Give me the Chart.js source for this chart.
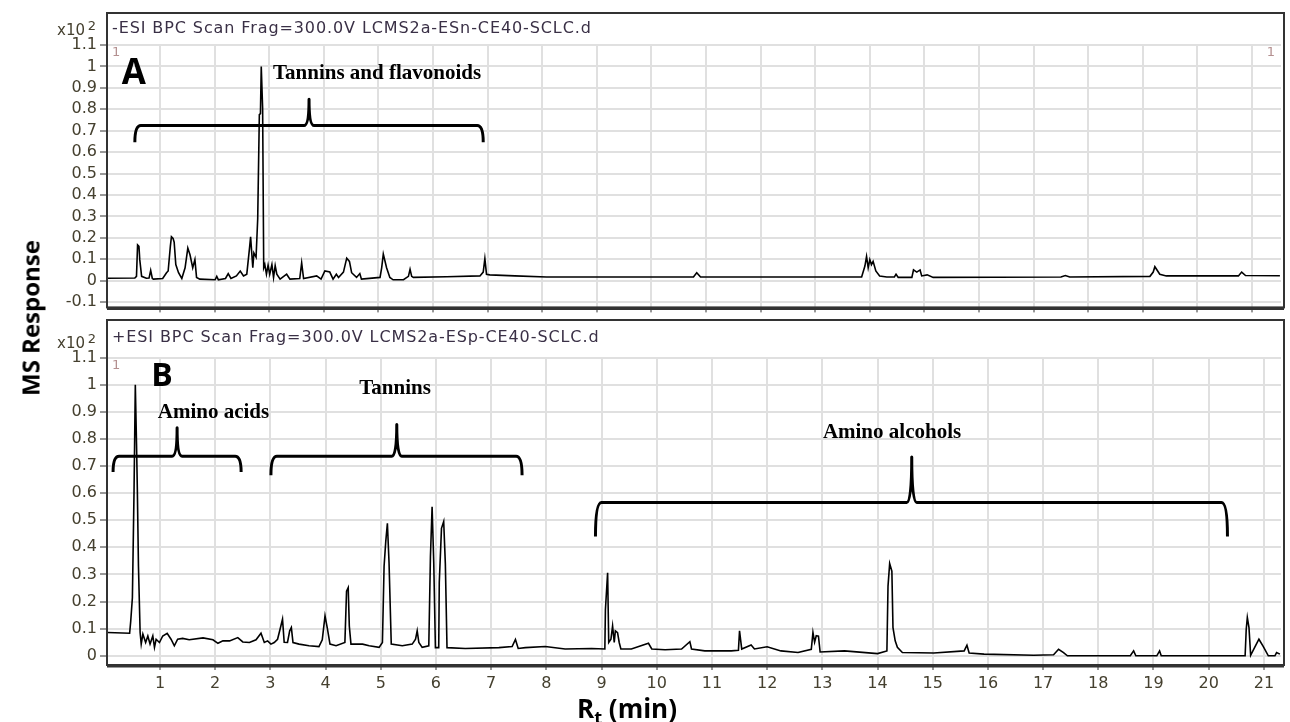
<!DOCTYPE html>
<html>
<head>
<meta charset="utf-8">
<title>BPC chromatograms</title>
<script src="https://cdn.jsdelivr.net/npm/chart.js@4.4.1/dist/chart.umd.min.js"></script>
<style>
  body { margin: 0; background: #fff; }
  #wrap { position: relative; width: 1290px; height: 722px; overflow: hidden; }
  canvas { position: absolute; left: 0; }
  #yTitle {
    position: absolute; left: 30px; top: 318px;
    transform: translate(-50%, -50%) rotate(-90deg);
    font: bold 24px "Open Sans", sans-serif; white-space: nowrap; color: #000;
  }
  #xTitle {
    position: absolute; left: 627px; top: 690px; transform: translateX(-50%);
    font: bold 26px "Open Sans", sans-serif; white-space: nowrap; color: #000;
  }
  #xTitle sub { font-size: 70%; vertical-align: -0.35em; line-height: 0; }
</style>
</head>
<body>
<div id="wrap">
  <canvas id="chartA" width="1290" height="320" style="top:0"></canvas>
  <canvas id="chartB" width="1290" height="406" style="top:316px"></canvas>
  <div id="yTitle">MS Response</div>
  <div id="xTitle">R<sub>t</sub> (min)</div>
</div>
<script>
// ---- data (time in min, response x10^2) ----
const timesA = [0.03, 0.54, 0.57, 0.59, 0.615, 0.63, 0.664, 0.75, 0.80, 0.83, 0.86, 0.88, 1.05, 1.12, 1.15, 1.19, 1.21, 1.24, 1.26, 1.29,
  1.34, 1.40, 1.46, 1.51, 1.55, 1.60, 1.64, 1.67, 1.73, 2.01, 2.04, 2.07, 2.20, 2.25, 2.30, 2.40, 2.47, 2.53, 2.59, 2.64,
  2.66, 2.70, 2.72, 2.76, 2.79, 2.82, 2.84, 2.855, 2.88, 2.90, 2.92, 2.95, 2.98, 3.01, 3.05, 3.08, 3.11, 3.14, 3.20, 3.32,
  3.38, 3.56, 3.595, 3.63, 3.87, 3.95, 4.02, 4.11, 4.17, 4.23, 4.27, 4.36, 4.42, 4.47, 4.51, 4.60, 4.66, 4.69, 5.03, 5.06,
  5.09, 5.15, 5.21, 5.27, 5.46, 5.55, 5.58, 5.61, 5.64, 6.25, 6.86, 6.92, 6.95, 6.98, 7.04, 7.50, 8.08, 9.30, 10.77, 10.83,
  10.90, 13.85, 13.91, 13.94, 13.97, 14.00, 14.03, 14.06, 14.11, 14.18, 14.31, 14.45, 14.48, 14.52, 14.77, 14.80, 14.86, 14.92, 14.95, 15.05,
  15.16, 17.50, 17.58, 17.66, 19.13, 19.19, 19.22, 19.31, 19.43, 20.75, 20.81, 20.88, 21.51];
const responseA = [0.011, 0.012, 0.02, 0.167, 0.16, 0.098, 0.02, 0.011, 0.012, 0.048, 0.01, 0.007, 0.01, 0.037, 0.045, 0.16, 0.205, 0.197, 0.18, 0.075,
  0.037, 0.01, 0.06, 0.152, 0.121, 0.06, 0.098, 0.015, 0.007, 0.004, 0.02, 0.004, 0.01, 0.033, 0.01, 0.022, 0.045, 0.022, 0.03, 0.152,
  0.205, 0.06, 0.129, 0.109, 0.289, 0.775, 0.78, 1.0, 0.806, 0.06, 0.075, 0.03, 0.072, 0.03, 0.075, 0.015, 0.07, 0.03, 0.007, 0.03,
  0.007, 0.01, 0.083, 0.01, 0.022, 0.007, 0.045, 0.04, 0.007, 0.03, 0.015, 0.04, 0.105, 0.09, 0.037, 0.015, 0.033, 0.007, 0.015, 0.06,
  0.124, 0.06, 0.015, 0.004, 0.004, 0.02, 0.053, 0.02, 0.015, 0.018, 0.022, 0.04, 0.103, 0.03, 0.027, 0.022, 0.017, 0.017, 0.017, 0.037,
  0.017, 0.017, 0.068, 0.113, 0.06, 0.098, 0.075, 0.09, 0.045, 0.022, 0.017, 0.017, 0.03, 0.015, 0.015, 0.05, 0.04, 0.05, 0.022, 0.027,
  0.015, 0.017, 0.024, 0.017, 0.02, 0.04, 0.065, 0.03, 0.022, 0.022, 0.04, 0.024, 0.023];

const timesB = [0.05, 0.45, 0.47, 0.50, 0.53, 0.553, 0.575, 0.59, 0.61, 0.64, 0.66, 0.69, 0.74, 0.78, 0.82, 0.87, 0.90, 0.93, 0.99, 1.05,
  1.13, 1.20, 1.26, 1.32, 1.41, 1.53, 1.78, 1.96, 2.05, 2.14, 2.26, 2.41, 2.50, 2.62, 2.74, 2.83, 2.89, 2.95, 3.01, 3.07,
  3.13, 3.19, 3.22, 3.25, 3.31, 3.35, 3.38, 3.41, 3.52, 3.70, 3.88, 3.94, 3.99, 4.03, 4.08, 4.19, 4.35, 4.38, 4.41, 4.43,
  4.46, 4.67, 4.79, 4.97, 5.03, 5.06, 5.09, 5.12, 5.15, 5.19, 5.39, 5.57, 5.63, 5.66, 5.69, 5.75, 5.87, 5.90, 5.93, 5.96,
  5.99, 6.05, 6.06, 6.10, 6.14, 6.17, 6.20, 6.53, 7.14, 7.38, 7.44, 7.49, 7.62, 7.98, 8.34, 8.82, 9.06, 9.07, 9.11, 9.13, 9.17,
  9.20, 9.23, 9.25, 9.29, 9.32, 9.35, 9.54, 9.85, 9.91, 10.15, 10.45, 10.60, 10.63, 10.87, 11.35, 11.48, 11.50, 11.54, 11.71, 11.77,
  12.00, 12.25, 12.56, 12.80, 12.83, 12.86, 12.89, 12.93, 12.96, 13.40, 14.00, 14.17, 14.19, 14.22, 14.26, 14.28, 14.32, 14.36, 14.45, 15.02,
  15.57, 15.62, 15.66, 15.93, 16.83, 17.19, 17.28, 17.37, 17.44, 18.58, 18.64, 18.68, 19.06, 19.11, 19.14, 20.66, 20.68, 20.70, 20.73, 20.76,
  20.84, 20.91, 20.99, 21.08, 21.20, 21.23, 21.29];
const responseB = [0.086, 0.083, 0.128, 0.214, 0.61, 1.0, 0.78, 0.61, 0.33, 0.086, 0.043, 0.08, 0.049, 0.073, 0.043, 0.073, 0.031, 0.061, 0.049, 0.073,
  0.083, 0.061, 0.037, 0.061, 0.064, 0.059, 0.066, 0.059, 0.046, 0.055, 0.055, 0.067, 0.051, 0.049, 0.059, 0.083, 0.049, 0.055, 0.043, 0.049,
  0.061, 0.11, 0.135, 0.05, 0.049, 0.092, 0.104, 0.049, 0.043, 0.037, 0.034, 0.059, 0.147, 0.104, 0.043, 0.037, 0.049, 0.238, 0.251, 0.11,
  0.043, 0.043, 0.037, 0.031, 0.049, 0.33, 0.42, 0.489, 0.342, 0.043, 0.037, 0.043, 0.061, 0.092, 0.049, 0.031, 0.037, 0.367, 0.55, 0.342,
  0.03, 0.03, 0.27, 0.47, 0.495, 0.34, 0.03, 0.027, 0.03, 0.034, 0.06, 0.027, 0.03, 0.034, 0.025, 0.027, 0.025, 0.17, 0.306, 0.049, 0.061,
  0.11, 0.049, 0.092, 0.085, 0.049, 0.025, 0.025, 0.046, 0.025, 0.022, 0.025, 0.052, 0.025, 0.018, 0.018, 0.02, 0.092, 0.025, 0.04, 0.025,
  0.033, 0.018, 0.012, 0.024, 0.086, 0.05, 0.074, 0.072, 0.014, 0.018, 0.008, 0.018, 0.257, 0.34, 0.312, 0.104, 0.055, 0.031, 0.012, 0.01,
  0.018, 0.039, 0.01, 0.006, 0.002, 0.004, 0.024, 0.012, 0.0, 0.0, 0.018, 0.0, 0.0, 0.018, 0.0, 0.0, 0.098, 0.141, 0.104, 0.002,
  0.034, 0.061, 0.034, 0.0, 0.0, 0.012, 0.006];

const xTicks = [1, 2, 3, 4, 5, 6, 7, 8, 9, 10, 11, 12, 13, 14, 15, 16, 17, 18, 19, 20, 21];
const yTicksA = [-0.1, 0, 0.1, 0.2, 0.3, 0.4, 0.5, 0.6, 0.7, 0.8, 0.9, 1, 1.1];
const yTicksB = [0, 0.1, 0.2, 0.3, 0.4, 0.5, 0.6, 0.7, 0.8, 0.9, 1, 1.1];

const titleA = "-ESI BPC Scan Frag=300.0V LCMS2a-ESn-CE40-SCLC.d";
const titleB = "+ESI BPC Scan Frag=300.0V LCMS2a-ESp-CE40-SCLC.d";

// compound-class brackets, in data units (from, to, middle tip, level, ends, tip height)
const bracketsA = [{ from: 0.54, to: 6.92, mid: 3.73, level: 0.724, end: 0.646, tip: 0.847 }];
const bracketsB = [
  { from: 0.15, to: 2.47, mid: 1.31, level: 0.736, end: 0.678, tip: 0.841 },
  { from: 3.01, to: 7.56, mid: 5.29, level: 0.736, end: 0.666, tip: 0.853 },
  { from: 8.89, to: 20.34, mid: 14.62, level: 0.565, end: 0.44, tip: 0.733 }
];
const labelsA = [{ text: "Tannins and flavonoids", x: 3.07, y: 0.966 }];
const labelsB = [
  { text: "Amino acids", x: 0.96, y: 0.898 },
  { text: "Tannins", x: 4.61, y: 0.984 },
  { text: "Amino alcohols", x: 13.01, y: 0.825 }
];

const TICK_COLOR = "#45402f";
const GRID_COLOR = "#e0e0e0";

function fmt(v) {
  return String(Math.round(v * 10) / 10);
}

function drawBracket(ctx, xs, ys, b) {
  const x0 = xs.getPixelForValue(b.from), x1 = xs.getPixelForValue(b.to), xm = xs.getPixelForValue(b.mid);
  const yH = ys.getPixelForValue(b.level), yE = ys.getPixelForValue(b.end), yT = ys.getPixelForValue(b.tip);
  const r = 6, s = 5;
  ctx.beginPath();
  ctx.moveTo(x0, yE);
  ctx.quadraticCurveTo(x0, yH, x0 + r, yH);
  ctx.lineTo(xm - s, yH);
  ctx.quadraticCurveTo(xm, yH, xm, yT);
  ctx.quadraticCurveTo(xm, yH, xm + s, yH);
  ctx.lineTo(x1 - r, yH);
  ctx.quadraticCurveTo(x1, yH, x1, yE);
  ctx.stroke();
}

function decor(p) {
  return {
    id: "decor" + p.letter,
    afterDraw(chart) {
      const ctx = chart.ctx, a = chart.chartArea;
      const xs = chart.scales.x, ys = chart.scales.y;
      ctx.save();
      // frame round the panel
      ctx.strokeStyle = "#333";
      ctx.lineWidth = 2;
      ctx.strokeRect(a.left, a.top - p.band, a.right - a.left + 3, a.bottom - a.top + p.band);
      ctx.lineWidth = 3;
      ctx.beginPath();
      ctx.moveTo(a.left, a.bottom + 1);
      ctx.lineTo(a.right + 3, a.bottom + 1);
      ctx.stroke();

      // instrument title and exponent
      ctx.fillStyle = "#3a3046";
      ctx.font = "16px 'DejaVu Sans'";
      ctx.letterSpacing = "0.9px";
      ctx.textBaseline = "middle";
      ctx.textAlign = "left";
      ctx.fillText(p.title, a.left + 5, a.top - p.band + p.titleDy);
      ctx.letterSpacing = "0px";
      ctx.fillStyle = TICK_COLOR;
      ctx.font = "15px 'DejaVu Sans'";
      ctx.textAlign = "right";
      ctx.fillText("x10", a.left - 22, a.top - 13);
      ctx.font = "13px 'DejaVu Sans'";
      ctx.fillText("2", a.left - 11, a.top - 17);

      // small trace numbers
      ctx.fillStyle = "#b49090";
      ctx.font = "13px 'DejaVu Sans'";
      ctx.textAlign = "left";
      ctx.fillText("1", a.left + 5, a.top + 9);
      if (p.rightOne) {
        ctx.textAlign = "right";
        ctx.fillText("1", a.right - 6, a.top + 9);
      }

      // panel letter
      ctx.fillStyle = "#000";
      ctx.font = "bold " + p.letterSize + "px 'Open Sans'";
      ctx.textAlign = "left";
      ctx.textBaseline = "alphabetic";
      ctx.fillText(p.letter, xs.getPixelForValue(p.letterAt[0]), ys.getPixelForValue(p.letterAt[1]));

      // brackets and class labels
      ctx.strokeStyle = "#000";
      ctx.lineWidth = 3;
      ctx.lineJoin = "round";
      p.brackets.forEach(b => drawBracket(ctx, xs, ys, b));
      ctx.font = "bold 21px 'Liberation Serif'";
      ctx.textBaseline = "middle";
      p.labels.forEach(l => ctx.fillText(l.text, xs.getPixelForValue(l.x), ys.getPixelForValue(l.y)));
      ctx.restore();
    }
  };
}

function makeChart(id, times, values, opt) {
  const points = times.map((t, i) => ({ x: t, y: values[i] }));
  return new Chart(document.getElementById(id), {
    type: "line",
    data: {
      datasets: [{
        data: points,
        borderColor: "#000",
        borderWidth: 1.6,
        pointRadius: 0,
        tension: 0,
        fill: false
      }]
    },
    options: {
      responsive: false,
      animation: false,
      devicePixelRatio: 1,
      layout: { padding: { top: opt.padTop, right: 9, left: 0, bottom: 0 } },
      plugins: { legend: { display: false }, tooltip: { enabled: false } },
      scales: {
        x: {
          type: "linear",
          min: opt.xMin,
          max: opt.xMax,
          afterBuildTicks: s => { s.ticks = xTicks.map(v => ({ value: v })); },
          afterFit: s => { s.height = opt.xHeight; },
          grid: { color: GRID_COLOR, lineWidth: 2, tickLength: 5, tickColor: "#333", tickWidth: 1 },
          border: { display: false },
          ticks: {
            display: opt.showX,
            color: TICK_COLOR,
            font: { family: "DejaVu Sans", size: 16 },
            padding: 4,
            maxRotation: 0,
            autoSkip: false
          }
        },
        y: {
          min: opt.yMin,
          max: opt.yMax,
          afterBuildTicks: s => { s.ticks = opt.yTicks.map(v => ({ value: v })); },
          afterFit: s => { s.width = 107; },
          grid: { color: GRID_COLOR, lineWidth: 2, tickLength: 7, tickColor: "#333", tickWidth: 1 },
          border: { display: false },
          ticks: {
            color: TICK_COLOR,
            font: { family: "DejaVu Sans", size: 16 },
            padding: 3,
            autoSkip: false,
            callback: v => fmt(v)
          }
        }
      }
    },
    plugins: [decor(opt.decor)]
  });
}

makeChart("chartA", timesA, responseA, {
  padTop: 44, xMin: 0.03, xMax: 21.53, yMin: -0.125, yMax: 1.105, yTicks: yTicksA,
  xHeight: 6, showX: false,
  decor: { letter: "A", letterSize: 35, letterAt: [0.3, 0.92], band: 31, titleDy: 16, rightOne: true,
           title: titleA, brackets: bracketsA, labels: labelsA }
});

makeChart("chartB", timesB, responseB, {
  padTop: 41, xMin: 0.04, xMax: 21.31, yMin: -0.034, yMax: 1.102, yTicks: yTicksB,
  xHeight: 57, showX: true,
  decor: { letter: "B", letterSize: 32, letterAt: [0.84, 0.996], band: 37, titleDy: 18, rightOne: false,
           title: titleB, brackets: bracketsB, labels: labelsB }
});
</script>
</body>
</html>
